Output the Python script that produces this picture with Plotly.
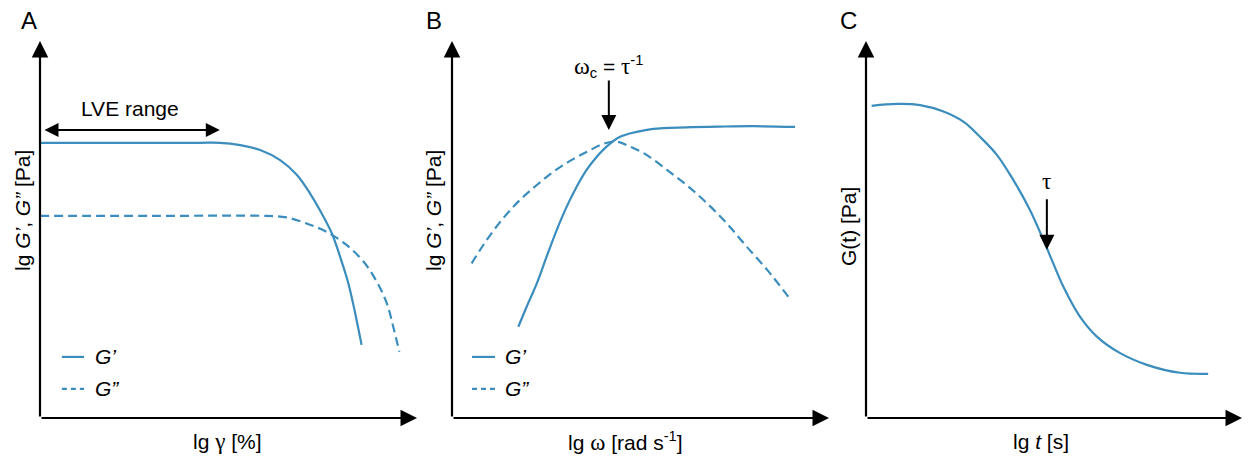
import plotly.graph_objects as go

# ---------------- data (schematic units, axes span 0..10) ----------------
# Panel A: amplitude sweep
a_gp_x = [0, 2.0, 4.24, 4.77, 5.31, 5.84, 6.37, 6.81, 7.16, 7.47, 7.74, 7.96, 8.18, 8.36, 8.53]
a_gp_y = [7.30, 7.30, 7.30, 7.30, 7.24, 7.11, 6.84, 6.45, 5.96, 5.43, 4.90, 4.28, 3.57, 2.78, 1.94]
a_gpp_x = [0, 3.0, 6.01, 6.54, 7.07, 7.60, 8.13, 8.58, 8.93, 9.20, 9.37, 9.53]
a_gpp_y = [5.36, 5.36, 5.36, 5.32, 5.16, 4.94, 4.59, 4.15, 3.62, 3.04, 2.42, 1.76]

# Panel B: frequency sweep
b_gp_x = [1.76, 1.98, 2.25, 2.51, 2.78, 3.04, 3.31, 3.57, 3.84, 4.10, 4.46, 4.90, 5.34, 6.22, 7.11, 7.99, 9.10]
b_gp_y = [2.42, 2.95, 3.57, 4.28, 4.99, 5.60, 6.14, 6.58, 6.93, 7.20, 7.46, 7.59, 7.67, 7.71, 7.73, 7.74, 7.72]
b_gpp_x = [0.52, 0.92, 1.36, 1.80, 2.25, 2.69, 3.13, 3.58, 4.01, 4.37, 4.72, 5.16, 5.70, 6.22, 6.76, 7.29, 7.82, 8.36, 8.92]
b_gpp_y = [4.10, 4.72, 5.30, 5.78, 6.18, 6.53, 6.82, 7.06, 7.27, 7.33, 7.20, 6.98, 6.58, 6.18, 5.70, 5.16, 4.54, 3.93, 3.22]

# Panel C: stress relaxation
c_x = [0.15, 0.82, 1.44, 2.06, 2.59, 3.03, 3.48, 3.92, 4.36, 4.72, 4.98, 5.25, 5.69, 6.14, 6.76, 7.47, 8.35, 9.10]
c_y = [8.28, 8.33, 8.30, 8.13, 7.86, 7.46, 6.98, 6.31, 5.52, 4.72, 4.10, 3.48, 2.69, 2.16, 1.72, 1.41, 1.20, 1.17]

panel_labels = ["A", "B", "C"]
legend_labels = ["<i>G’</i>", "<i>G”</i>"]

BLUE = "#3a8dbd"
FONT = "Arial, Liberation Sans, sans-serif"
SERIF = "Times New Roman, Liberation Serif, serif"

W, H = 1249, 459
fig = go.Figure()

# domains in pixels
xdom_px = [(40, 417), (452, 829), (866, 1242)]
y_bottom_px, y_top_px = 418, 41
ydom = [1 - y_bottom_px / H, 1 - y_top_px / H]

axes_names = [("x", "y"), ("x2", "y2"), ("x3", "y3")]
for i, (x0, x1) in enumerate(xdom_px):
    sx = "" if i == 0 else str(i + 1)
    fig.layout["xaxis" + sx] = dict(domain=[x0 / W, x1 / W], range=[0, 10], visible=False,
                                    anchor="y" + sx, fixedrange=True)
    fig.layout["yaxis" + sx] = dict(domain=ydom, range=[0, 10], visible=False,
                                    anchor="x" + sx, fixedrange=True)

solid = dict(color=BLUE, width=2.2, shape="spline", smoothing=1.0)
dashed = dict(color=BLUE, width=2.2, dash="9px,5px", shape="spline", smoothing=1.0)

fig.add_trace(go.Scatter(x=a_gp_x, y=a_gp_y, mode="lines", line=solid, xaxis="x", yaxis="y"))
fig.add_trace(go.Scatter(x=a_gpp_x, y=a_gpp_y, mode="lines", line=dashed, xaxis="x", yaxis="y"))
fig.add_trace(go.Scatter(x=b_gp_x, y=b_gp_y, mode="lines", line=solid, xaxis="x2", yaxis="y2"))
fig.add_trace(go.Scatter(x=b_gpp_x, y=b_gpp_y, mode="lines", line=dashed, xaxis="x2", yaxis="y2"))
fig.add_trace(go.Scatter(x=c_x, y=c_y, mode="lines", line=solid, xaxis="x3", yaxis="y3"))

ann = []
# axis arrows
for xa, ya in axes_names:
    for (hx, hy) in [(10, 0), (0, 10)]:
        ann.append(dict(x=hx, y=hy, ax=0, ay=0, xref=xa, yref=ya, axref=xa, ayref=ya,
                        text="", showarrow=True, arrowhead=2, arrowsize=1.5, arrowwidth=2.2,
                        arrowcolor="black", standoff=0, startstandoff=0))

# LVE range double arrow
ann.append(dict(x=4.77, y=7.64, ax=0.08, ay=7.64, xref="x", yref="y", axref="x", ayref="y",
                text="", showarrow=True, arrowhead=2, startarrowhead=2, arrowside="end+start",
                arrowsize=1.4, startarrowsize=1.4, arrowwidth=2, arrowcolor="black",
                standoff=0, startstandoff=0))
ann.append(dict(x=2.39, y=8.22, xref="x", yref="y", text="LVE range", showarrow=False,
                xanchor="center", yanchor="middle",
                font=dict(size=21, color="black", family=FONT)))

# omega_c arrow (panel B)
ann.append(dict(x=4.16, y=7.64, ax=4.16, ay=8.99, xref="x2", yref="y2", axref="x2", ayref="y2",
                text="", showarrow=True, arrowhead=2, arrowsize=1.5, arrowwidth=2,
                arrowcolor="black", standoff=0, startstandoff=0))
ann.append(dict(x=4.16, y=9.33, xref="x2", yref="y2",
                text=f"<span style='font-family:{SERIF};font-size:24px'>ω</span><sub>c</sub> = "
                     f"<span style='font-family:{SERIF};font-size:23px'>τ</span><sup>-1</sup>",
                showarrow=False, xanchor="center", yanchor="middle",
                font=dict(size=21, color="black", family=FONT)))

# tau arrow (panel C)
ann.append(dict(x=4.81, y=4.46, ax=4.81, ay=5.84, xref="x3", yref="y3", axref="x3", ayref="y3",
                text="", showarrow=True, arrowhead=2, arrowsize=1.5, arrowwidth=2,
                arrowcolor="black", standoff=0, startstandoff=0))
ann.append(dict(x=4.81, y=6.28, xref="x3", yref="y3",
                text=f"<span style='font-family:{SERIF}'>τ</span>",
                showarrow=False, xanchor="center", yanchor="middle",
                font=dict(size=23, color="black", family=FONT)))

# legends (panels A & B)
shapes = []
for xa, ya, lx0, lx1, tx in [("x", "y", 0.58, 1.17, 1.41), ("x2", "y2", 0.53, 1.14, 1.35)]:
    shapes.append(dict(type="line", xref=xa, yref=ya, x0=lx0, x1=lx1, y0=1.62, y1=1.62,
                       line=dict(color=BLUE, width=2.2)))
    shapes.append(dict(type="line", xref=xa, yref=ya, x0=lx0, x1=lx1, y0=0.77, y1=0.77,
                       line=dict(color=BLUE, width=2.2, dash="5px,4px")))
    for yy, lab in [(1.62, legend_labels[0]), (0.77, legend_labels[1])]:
        ann.append(dict(x=tx, y=yy, xref=xa, yref=ya, text=lab, showarrow=False,
                        xanchor="left", yanchor="middle",
                        font=dict(size=21, color="black", family=FONT)))

# panel letters
for lab, px in zip(panel_labels, [29, 434, 848]):
    ann.append(dict(x=px / W, y=1 - 21 / H, xref="paper", yref="paper", text=lab,
                    showarrow=False, xanchor="center", yanchor="middle",
                    font=dict(size=24, color="black", family=FONT)))

# axis titles
xtitles = [
    ("lg <span style='font-family:%s;font-size:23px'>γ</span> [%%]" % SERIF, 227),
    ("lg <span style='font-family:%s;font-size:23px'>ω</span> [rad s<sup>-1</sup>]" % SERIF, 625),
    ("lg <i>t</i> [s]", 1041),
]
for t, px in xtitles:
    ann.append(dict(x=px / W, y=1 - 441 / H, xref="paper", yref="paper", text=t,
                    showarrow=False, xanchor="center", yanchor="middle",
                    font=dict(size=21, color="black", family=FONT)))

ytitles = [
    ("lg <i>G’</i>, <i>G”</i> [Pa]", 22, 211),
    ("lg <i>G’</i>, <i>G”</i> [Pa]", 433, 211),
    ("G(t) [Pa]", 848, 227),
]
for t, px, py in ytitles:
    ann.append(dict(x=px / W, y=1 - py / H, xref="paper", yref="paper", text=t, textangle=-90,
                    showarrow=False, xanchor="center", yanchor="middle",
                    font=dict(size=21, color="black", family=FONT)))

fig.update_layout(width=W, height=H, margin=dict(l=0, r=0, t=0, b=0),
                  paper_bgcolor="white", plot_bgcolor="white", showlegend=False,
                  annotations=ann, shapes=shapes)

fig.write_html("out.html", config={"displayModeBar": False})
